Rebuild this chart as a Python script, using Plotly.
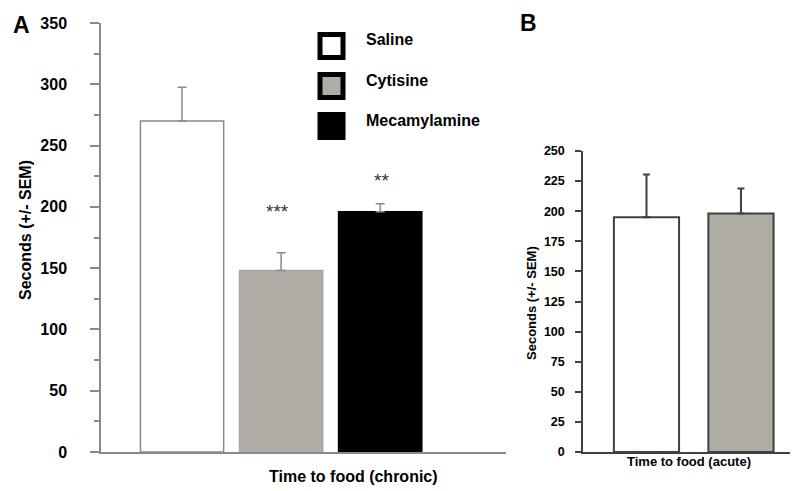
import plotly.graph_objects as go

# ---- data ----
groups_a = ["Saline", "Cytisine", "Mecamylamine"]
means_a = [270, 148, 196]
sem_a = [27.5, 14.5, 6.5]
sig_a = ["", "***", "**"]

groups_b = ["Saline", "Cytisine"]
means_b = [195, 198]
sem_b = [35.5, 20.8]

colors = {"Saline": "#ffffff", "Cytisine": "#b0ada5", "Mecamylamine": "#000000"}

FONT = "Arial, Liberation Sans, sans-serif"
OFF = 8  # default page margin of the html body
W, H = 800 - OFF, 491 - OFF

def px_x(p):
    return (p - OFF) / W

def px_y(p):
    return 1 - (p - OFF) / H

fig = go.Figure()

# Panel A bars
fig.add_trace(go.Bar(
    x=groups_a, y=means_a, width=0.84,
    marker=dict(color=[colors[g] for g in groups_a],
                line=dict(color=["#8a8a8a", "#a9a69e", "#000000"], width=1.5)),
    error_y=dict(type="data", symmetric=False, array=sem_a, arrayminus=[0] * len(sem_a),
                 color="#8a8a8a", thickness=1.5, width=4.5),
    xaxis="x", yaxis="y", showlegend=False, hoverinfo="skip"))

# Panel B bars
fig.add_trace(go.Bar(
    x=groups_b, y=means_b, width=0.69,
    marker=dict(color=[colors[g] for g in groups_b],
                line=dict(color="#404040", width=2)),
    error_y=dict(type="data", symmetric=False, array=sem_b, arrayminus=[0] * len(sem_b),
                 color="#404040", thickness=2, width=3.5),
    xaxis="x2", yaxis="y2", showlegend=False, hoverinfo="skip"))

# Custom legend on a full-page hidden axis pair
leg_y = [46, 86, 126]
fig.add_trace(go.Scatter(
    x=[px_x(331.5)] * 3, y=[px_y(v) for v in leg_y], mode="markers",
    marker=dict(symbol="square", size=23, color=[colors[g] for g in groups_a],
                line=dict(color="#000000", width=5)),
    cliponaxis=False,
    xaxis="x3", yaxis="y3", showlegend=False, hoverinfo="skip"))

annotations = []
for g, yy in zip(groups_a, [39, 80, 120]):
    annotations.append(dict(x=px_x(364), y=px_y(yy), xref="paper", yref="paper",
                            text=g, showarrow=False, xanchor="left", yanchor="middle",
                            font=dict(family=FONT, size=16, color="#000000", weight="bold")))

# significance marks
for i, (g, s) in enumerate(zip(groups_a, sig_a)):
    if s:
        annotations.append(dict(x=g, y=means_a[i] + sem_a[i], xref="x", yref="y",
                                text=s, showarrow=False, yanchor="bottom", yshift=29 if s == "***" else 11,
                                xshift=-4 if s == "***" else 1,
                                font=dict(family=FONT, size=19, color="#333333")))

# panel letters
annotations.append(dict(x=px_x(21.5), y=px_y(25), xref="paper", yref="paper", text="A",
                        showarrow=False, xanchor="center", yanchor="middle",
                        font=dict(family=FONT, size=23, color="#000000", weight="bold")))
annotations.append(dict(x=px_x(528.5), y=px_y(22.5), xref="paper", yref="paper", text="B",
                        showarrow=False, xanchor="center", yanchor="middle",
                        font=dict(family=FONT, size=23, color="#000000", weight="bold")))

# axis titles
annotations.append(dict(x=px_x(25), y=px_y(230), xref="paper", yref="paper",
                        text="Seconds (+/- SEM)", textangle=-90, showarrow=False,
                        xanchor="center", yanchor="middle",
                        font=dict(family=FONT, size=16, color="#000000", weight="bold")))
annotations.append(dict(x=px_x(531), y=px_y(303), xref="paper", yref="paper",
                        text="Seconds (+/- SEM)", textangle=-90, showarrow=False,
                        xanchor="center", yanchor="middle",
                        font=dict(family=FONT, size=13, color="#000000", weight="bold")))
annotations.append(dict(x=px_x(353), y=px_y(476), xref="paper", yref="paper",
                        text="Time to food (chronic)", showarrow=False,
                        xanchor="center", yanchor="middle",
                        font=dict(family=FONT, size=16, color="#000000", weight="bold")))
annotations.append(dict(x=px_x(689), y=px_y(461), xref="paper", yref="paper",
                        text="Time to food (acute)", showarrow=False,
                        xanchor="center", yanchor="middle",
                        font=dict(family=FONT, size=13, color="#000000", weight="bold")))

fig.update_layout(
    width=W, height=H, margin=dict(l=0, r=0, t=0, b=0, autoexpand=False),
    paper_bgcolor="#ffffff", plot_bgcolor="rgba(0,0,0,0)",
    font=dict(family=FONT, color="#000000"),
    annotations=annotations,
    xaxis=dict(domain=[px_x(101), px_x(506)], range=[-0.818, 3.27], anchor="y",
               automargin=False,
               showticklabels=False, ticks="", showgrid=False, zeroline=False,
               showline=True, linecolor="#8a8a8a", linewidth=1.5),
    yaxis=dict(domain=[px_y(452), px_y(23)], range=[0, 350], anchor="x",
               automargin=False,
               tick0=0, dtick=50, ticks="outside", ticklen=9, tickwidth=1.5,
               tickcolor="#8a8a8a", showgrid=False, zeroline=False,
               showline=True, linecolor="#8a8a8a", linewidth=1.5,
               ticklabelstandoff=20,
               tickfont=dict(family=FONT, size=16, color="#000000", weight="bold"),
               minor=dict(dtick=25, ticks="outside", ticklen=5, tickwidth=1.5,
                          tickcolor="#8a8a8a", showgrid=False)),
    xaxis2=dict(domain=[px_x(583), px_x(790)], range=[-0.672, 1.519], anchor="y2",
                automargin=False,
                showticklabels=False, ticks="", showgrid=False, zeroline=False,
                showline=True, linecolor="#404040", linewidth=1.5),
    yaxis2=dict(domain=[px_y(452), px_y(151)], range=[0, 250], anchor="x2",
                automargin=False,
                tick0=0, dtick=25, ticks="outside", ticklen=6, tickwidth=1.5,
                tickcolor="#404040", showgrid=False, zeroline=False,
                showline=True, linecolor="#404040", linewidth=1.5,
                ticklabelstandoff=8,
                tickfont=dict(family=FONT, size=12.5, color="#000000", weight="bold")),
    xaxis3=dict(domain=[0, 1], range=[0, 1], anchor="y3", visible=False, automargin=False),
    yaxis3=dict(domain=[0, 1], range=[0, 1], anchor="x3", visible=False, automargin=False),
)

fig.write_html("out.html")
